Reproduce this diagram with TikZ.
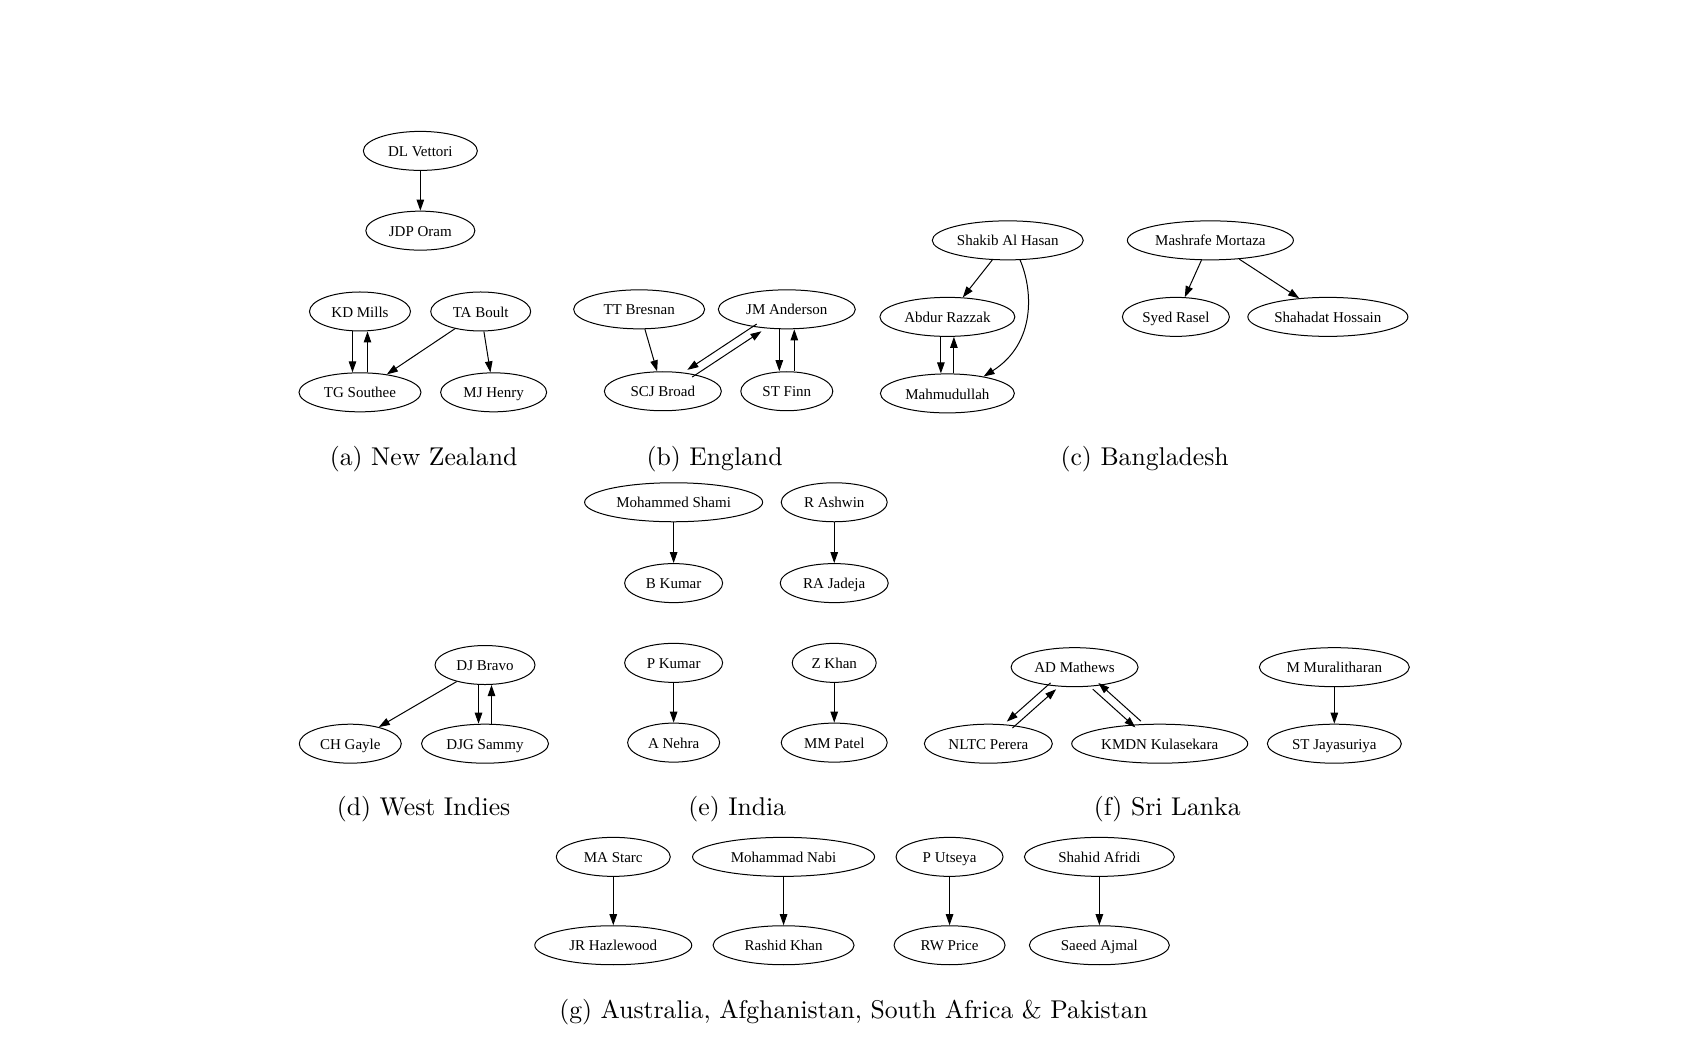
\documentclass[tikz,border=0pt]{standalone}
\usepackage{fontspec}
\newfontfamily\gvfont{Liberation Serif}
\usetikzlibrary{shapes.geometric,arrows.meta}
\tikzset{
  pl/.style={ellipse, draw, line width=1pt, inner sep=0pt, minimum height=39pt,
             text height=14.2pt, text depth=3pt,
             font=\gvfont\fontsize{15}{18}\selectfont},
  ed/.style={line width=1pt, -{Triangle[length=11pt,width=7.5pt]}},
  capnode/.style={inner sep=0pt}
}
\newcommand\captxt[1]{\scalebox{2.567}{#1}}
\begin{document}
\begin{tikzpicture}[x=1.0778pt,y=-1.0778pt]
\useasboundingbox (0,0) rectangle (1568,982);
% (a) New Zealand
\node[pl,minimum width=114pt] (vet) at (390,140) {DL Vettori};
\node[pl,minimum width=109pt] (oram) at (390,214) {JDP Oram};
\node[pl,minimum width=101pt] (mills) at (334,289) {KD Mills};
\node[pl,minimum width=100pt] (boult) at (446,289) {TA Boult};
\node[pl,minimum width=122pt] (southee) at (334,364) {TG Southee};
\node[pl,minimum width=106pt] (henry) at (458,364) {MJ Henry};
\draw[ed] (vet) -- (oram);
\draw[ed] ([xshift=-7.5pt]mills.south) -- ([xshift=-7.5pt]southee.north);
\draw[ed] ([xshift=7.5pt]southee.north) -- ([xshift=7.5pt]mills.south);
\draw[ed] (boult) -- (southee);
\draw[ed] (boult) -- (henry);
\node[capnode] (capa) at (393,426) {\captxt{(a) New Zealand}};
% (b) England
\node[pl,minimum width=131pt] (bresnan) at (593,287) {TT Bresnan};
\node[pl,minimum width=137pt] (anderson) at (730,287) {JM Anderson};
\node[pl,minimum width=117pt] (broad) at (615,363) {SCJ Broad};
\node[pl,minimum width=92pt] (finn) at (730,363) {ST Finn};
\draw[ed] (bresnan) -- (broad);
\draw[ed,transform canvas={xshift=-2.4pt,yshift=3.6pt}] (anderson) -- (broad);
\draw[ed,transform canvas={xshift=2.4pt,yshift=-3.6pt}] (broad) -- (anderson);
\draw[ed] ([xshift=-7.5pt]anderson.south) -- ([xshift=-7.5pt]finn.north);
\draw[ed] ([xshift=7.5pt]finn.north) -- ([xshift=7.5pt]anderson.south);
\node[capnode] (capb) at (663,426) {\captxt{(b) England}};
% (c) Bangladesh
\node[pl,minimum width=151pt] (shakib) at (935,223) {Shakib Al Hasan};
\node[pl,minimum width=135pt] (razzak) at (879,294) {Abdur Razzak};
\node[pl,minimum width=134pt] (mahm) at (879,365) {Mahmudullah};
\node[pl,minimum width=166pt] (mashrafe) at (1123,223) {Mashrafe Mortaza};
\node[pl,minimum width=107pt] (rasel) at (1091,294) {Syed Rasel};
\node[pl,minimum width=160pt] (shahadat) at (1232,294) {Shahadat Hossain};
\draw[ed] (shakib) -- (razzak);
\draw[ed] (shakib.302) .. controls (958,268) and (962,318) .. (mahm.25);
\draw[ed] ([xshift=-6.5pt]razzak.south) -- ([xshift=-6.5pt]mahm.north);
\draw[ed] ([xshift=6.5pt]mahm.north) -- ([xshift=6.5pt]razzak.south);
\draw[ed] (mashrafe) -- (rasel);
\draw[ed] (mashrafe) -- (shahadat);
\node[capnode] (capc) at (1062,426) {\captxt{(c) Bangladesh}};
% (d) West Indies
\node[pl,minimum width=100pt] (bravo) at (450,617) {DJ Bravo};
\node[pl,minimum width=102pt] (gayle) at (325,690) {CH Gayle};
\node[pl,minimum width=127pt] (sammy) at (450,690) {DJG Sammy};
\draw[ed] (bravo) -- (gayle);
\draw[ed] ([xshift=-6.5pt]bravo.south) -- ([xshift=-6.5pt]sammy.north);
\draw[ed] ([xshift=6.5pt]sammy.north) -- ([xshift=6.5pt]bravo.south);
\node[capnode] (capd) at (393,751) {\captxt{(d) West Indies}};
% (e) India
\node[pl,minimum width=178pt] (shami) at (625,466) {Mohammed Shami};
\node[pl,minimum width=98pt] (bkumar) at (625,541) {B Kumar};
\node[pl,minimum width=106pt] (ashwin) at (774,466) {R Ashwin};
\node[pl,minimum width=108pt] (jadeja) at (774,541) {RA Jadeja};
\node[pl,minimum width=98pt] (pkumar) at (625,615) {P Kumar};
\node[pl,minimum width=92pt] (nehra) at (625,689) {A Nehra};
\node[pl,minimum width=84pt] (khan) at (774,615) {Z Khan};
\node[pl,minimum width=106pt] (patel) at (774,689) {MM Patel};
\draw[ed] (shami) -- (bkumar);
\draw[ed] (ashwin) -- (jadeja);
\draw[ed] (pkumar) -- (nehra);
\draw[ed] (khan) -- (patel);
\node[capnode] (cape) at (684,751) {\captxt{(e) India}};
% (f) Sri Lanka
\node[pl,minimum width=127pt] (mathews) at (997,619) {AD Mathews};
\node[pl,minimum width=128pt] (perera) at (917,690) {NLTC Perera};
\node[pl,minimum width=176pt] (kula) at (1076,690) {KMDN Kulasekara};
\node[pl,minimum width=150pt] (murali) at (1238,619) {M Muralitharan};
\node[pl,minimum width=134pt] (jaya) at (1238,690) {ST Jayasuriya};
\draw[ed,transform canvas={xshift=-2.8pt,yshift=3.2pt}] (mathews) -- (perera);
\draw[ed,transform canvas={xshift=2.8pt,yshift=-3.2pt}] (perera) -- (mathews);
\draw[ed,transform canvas={xshift=-2.8pt,yshift=-3.1pt}] (mathews) -- (kula);
\draw[ed,transform canvas={xshift=2.8pt,yshift=3.1pt}] (kula) -- (mathews);
\draw[ed] (murali) -- (jaya);
\node[capnode] (capf) at (1083,751) {\captxt{(f) Sri Lanka}};
% (g)
\node[pl,minimum width=114pt] (starc) at (569,795) {MA Starc};
\node[pl,minimum width=157pt] (hazle) at (569,877) {JR Hazlewood};
\node[pl,minimum width=182pt] (nabi) at (727,795) {Mohammad Nabi};
\node[pl,minimum width=141pt] (rashid) at (727,877) {Rashid Khan};
\node[pl,minimum width=107pt] (utseya) at (881,795) {P Utseya};
\node[pl,minimum width=111pt] (price) at (881,877) {RW Price};
\node[pl,minimum width=150pt] (afridi) at (1020,795) {Shahid Afridi};
\node[pl,minimum width=140pt] (ajmal) at (1020,877) {Saeed Ajmal};
\draw[ed] (starc) -- (hazle);
\draw[ed] (nabi) -- (rashid);
\draw[ed] (utseya) -- (price);
\draw[ed] (afridi) -- (ajmal);
\node[capnode] (capg) at (792,939) {\captxt{(g) Australia, Afghanistan, South Africa \& Pakistan}};
\end{tikzpicture}
\end{document}
